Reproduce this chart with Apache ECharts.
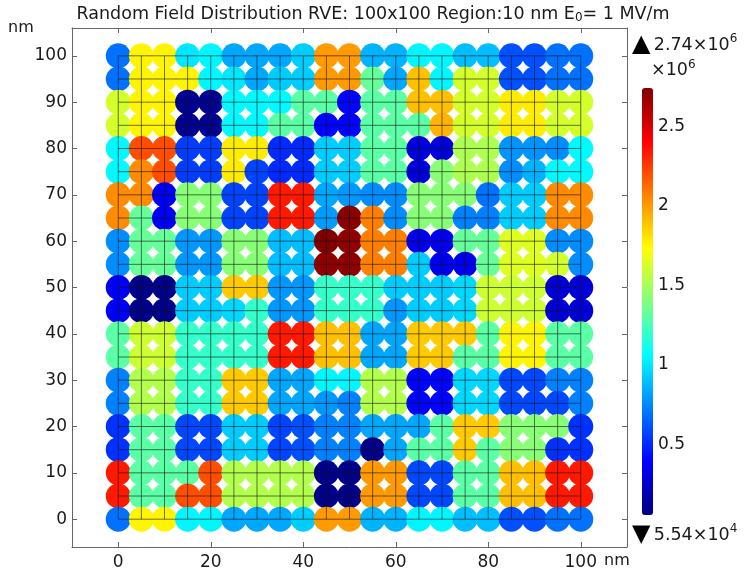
<!DOCTYPE html>
<html><head><meta charset="utf-8">
<script src="https://cdn.jsdelivr.net/npm/echarts@6/dist/echarts.min.js"></script>
<style>html,body{margin:0;padding:0;background:#fff}#c{width:746px;height:575px}</style>
</head><body><div id="c"></div>
<script>
// grid positions (nm)
const positions = [0,5,10,15,20,25,30,35,40,45,50,55,60,65,70,75,80,85,90,95,100];
const xTicks = [0,20,40,60,80,100];
const yTicks = [0,10,20,30,40,50,60,70,80,90,100];
const cbTicks = [0.5,1,1.5,2,2.5];
const fieldMin = 0.0554, fieldMax = 2.74; // x10^6 V/m

// field values (x10^6 V/m), one row per y (nm), columns x = 0..100
const r100 = [0.69,1.76,1.76,1.00,1.04,0.83,0.83,0.83,0.93,2.00,2.00,0.86,0.86,1.04,1.04,0.89,0.89,0.60,0.60,0.69,0.69];
const r95  = [0.69,1.76,1.76,1.76,1.04,1.00,0.83,0.93,0.93,2.00,2.00,1.33,0.83,1.90,1.04,1.62,1.62,0.60,0.60,0.69,0.69];
const r90  = [1.62,1.76,1.76,0.10,0.10,1.05,1.05,1.05,1.30,1.30,0.40,1.30,1.30,1.90,1.90,1.62,1.62,1.78,1.78,1.62,1.62];
const r85  = [1.62,1.76,1.76,0.10,0.10,1.05,1.05,1.30,1.30,0.40,0.40,1.30,1.30,1.30,1.93,1.62,1.62,1.78,1.78,1.62,1.62];
const r80  = [1.05,2.20,2.20,0.55,0.55,1.78,1.78,0.50,0.50,0.93,0.93,1.30,1.30,0.30,0.30,1.52,1.52,0.78,0.78,0.76,1.05];
const r75  = [1.05,2.04,2.20,0.55,0.55,1.78,0.57,0.50,0.50,0.93,0.93,1.30,1.30,0.30,1.42,1.52,1.52,0.76,0.86,1.05,1.05];
const r70  = [2.04,2.04,0.37,1.42,1.42,0.57,0.57,2.34,2.34,0.83,0.79,0.76,0.76,1.42,1.42,1.42,0.69,0.93,0.93,2.04,2.04];
const r65  = [2.04,1.33,0.37,1.42,1.42,0.57,0.57,2.34,2.34,0.80,2.72,2.07,0.76,1.42,1.42,0.73,0.73,0.93,0.93,2.04,2.04];
const r60  = [0.76,1.33,1.33,0.79,0.79,1.42,1.42,0.89,0.89,2.74,2.70,2.07,2.07,0.35,0.35,1.33,1.33,1.65,1.65,0.76,0.76];
const r55  = [0.76,1.33,1.33,0.79,0.79,1.42,1.42,0.89,0.89,2.70,2.70,2.07,2.07,0.93,0.35,0.35,1.33,1.65,1.65,1.62,0.76];
const r50  = [0.37,0.08,0.08,0.93,0.93,1.87,1.87,0.79,0.79,1.20,1.20,1.20,0.93,0.93,0.93,0.96,1.60,1.60,1.60,0.28,0.28];
const r45  = [0.37,0.08,0.08,0.93,0.93,0.96,1.20,0.79,0.79,1.20,1.20,1.20,0.79,0.93,0.93,0.96,1.60,1.60,1.60,0.28,0.28];
const r40  = [1.30,1.60,1.60,1.20,1.20,1.20,1.20,2.34,2.34,1.90,1.90,0.83,0.83,1.87,1.87,1.87,1.30,1.76,1.76,1.30,1.30];
const r35  = [1.30,1.60,1.60,1.20,1.20,1.20,1.20,2.34,2.34,1.90,1.90,0.83,0.83,1.87,1.87,1.30,1.30,1.76,1.76,1.30,1.30];
const r30  = [0.73,1.53,1.53,1.20,1.20,1.87,1.87,0.83,0.83,1.04,1.04,1.53,1.53,0.40,0.40,0.96,0.96,0.58,0.58,0.73,0.73];
const r25  = [0.73,1.53,1.53,1.20,1.20,1.87,1.87,0.83,0.83,0.79,0.73,1.53,1.53,0.40,0.40,0.96,0.96,0.58,0.58,0.58,0.73];
const r20  = [0.52,1.30,1.30,0.58,0.58,0.93,0.93,0.57,0.60,0.73,0.73,0.83,0.83,0.83,1.30,1.87,1.87,1.42,1.42,1.42,0.52];
const r15  = [0.52,1.30,1.30,0.58,0.58,0.93,0.93,0.57,0.60,0.73,0.73,0.08,0.83,1.30,1.30,1.87,1.30,1.42,1.42,0.52,0.52];
const r10  = [2.34,1.30,1.30,1.30,2.20,1.53,1.53,1.53,1.53,0.08,0.08,2.00,2.00,0.58,0.58,1.30,1.30,1.90,1.90,2.34,2.34];
const r5   = [2.34,1.30,1.30,2.20,2.20,1.53,1.53,1.53,1.53,0.08,0.08,2.00,2.00,0.58,0.58,1.30,1.30,1.90,1.90,2.34,2.34];
const r0   = [0.69,1.76,1.76,1.04,1.04,0.83,0.83,0.83,0.93,2.00,2.00,0.86,0.86,1.04,1.04,0.89,0.89,0.60,0.60,0.69,0.69];

const rows = [[100,r100],[95,r95],[90,r90],[85,r85],[80,r80],[75,r75],[70,r70],[65,r65],[60,r60],[55,r55],
              [50,r50],[45,r45],[40,r40],[35,r35],[30,r30],[25,r25],[20,r20],[15,r15],[10,r10],[5,r5],[0,r0]];

const data = [];
rows.forEach(([y, vals]) => vals.forEach((v, i) => data.push([positions[i], y, v])));

const jet = ['#000080','#0000ff','#0080ff','#00ffff','#80ff80','#ffff00','#ff8000','#ff0000','#800000'];
const FONT = 'DejaVu Sans';
const txt = '#1a1a1a';

const chart = echarts.init(document.getElementById('c'), null, {renderer:'canvas'});
const frameAxis = (extra) => Object.assign({
  type:'value', axisLine:{show:true, onZero:false, lineStyle:{color:'#666', width:1}},
  splitLine:{show:false}
}, extra);
const tick = (vals) => ({show:true, inside:true, length:5, lineStyle:{color:'#666'}, customValues:vals});

chart.setOption({
  animation:false,
  textStyle:{fontFamily:FONT},
  title:{
    text:'Random Field Distribution RVE: 100x100 Region:10 nm E{s|0}= 1 MV/m',
    left:'center', top:0,
    textStyle:{fontFamily:FONT, fontSize:17.5, fontWeight:'normal', color:txt,
      rich:{s:{fontFamily:FONT, fontSize:12, verticalAlign:'bottom', padding:[7,0,0,0], color:txt}}}
  },
  grid:[
    {left:72, right:119, top:28, bottom:28, outerBoundsMode:'none'},
    {left:642, width:11, top:88, height:427, outerBoundsMode:'none'}
  ],
  xAxis:[
    frameAxis({gridIndex:0, position:'bottom', min:-10, max:110, axisTick:tick(xTicks),
      axisLabel:{customValues:xTicks, fontSize:17, color:txt, margin:7, fontFamily:FONT}}),
    frameAxis({gridIndex:0, position:'top', min:-10, max:110, axisTick:tick(xTicks),
      axisLabel:{show:false}}),
    {type:'value', gridIndex:1, min:0, max:1, show:false}
  ],
  yAxis:[
    frameAxis({gridIndex:0, position:'left', min:-6, max:106, axisTick:tick(yTicks),
      axisLabel:{customValues:yTicks, fontSize:17, color:txt, margin:5, fontFamily:FONT}}),
    frameAxis({gridIndex:0, position:'right', min:-6, max:106, axisTick:tick(yTicks),
      axisLabel:{show:false}}),
    {type:'value', gridIndex:1, position:'right', min:fieldMin, max:fieldMax,
      axisLine:{show:false}, axisTick:{show:false}, splitLine:{show:false},
      axisLabel:{customValues:cbTicks, fontSize:17, color:txt, margin:5, fontFamily:FONT,
        formatter:v=>String(v)}}
  ],
  visualMap:{
    type:'continuous', seriesIndex:0, dimension:2, min:fieldMin, max:fieldMax,
    inRange:{color:jet}, calculable:false, left:642, top:88, itemWidth:11, itemHeight:427,
    padding:0, text:null, showLabel:false, orient:'vertical', hoverLink:false
  },
  series:[
    {type:'scatter', xAxisIndex:0, yAxisIndex:0, data:data, symbolSize:25, symbol:'circle',
      itemStyle:{opacity:1}, z:2, silent:true},
    {type:'custom', xAxisIndex:0, yAxisIndex:0, data:positions.map(p=>[p]), z:3, silent:true,
      encode:{x:0},
      renderItem:(params, api) => {
        const p = api.value(0);
        const a = api.coord([p, 0]), b = api.coord([p, 100]);
        const c = api.coord([0, p]), d = api.coord([100, p]);
        const st = {stroke:'rgba(20,20,20,0.6)', lineWidth:1};
        return {type:'group', children:[
          {type:'line', shape:{x1:a[0], y1:a[1], x2:b[0], y2:b[1]}, style:st},
          {type:'line', shape:{x1:c[0], y1:c[1], x2:d[0], y2:d[1]}, style:st}
        ]};
      }}
  ],
  graphic:[
    {type:'text', left:8, top:20, style:{text:'nm', font:'16px "DejaVu Sans"', fill:txt}},
    {type:'text', left:604, top:553, style:{text:'nm', font:'16px "DejaVu Sans"', fill:txt}},
    {type:'text', left:632, top:33, style:{
      text:'{t|▲} {n|2.74×10}{p|6}', fill:txt,
      rich:{t:{fontSize:24, fontFamily:FONT, fill:'#000'}, n:{fontSize:17.5, fontFamily:FONT, fill:txt},
            p:{fontSize:12, fontFamily:FONT, fill:txt, verticalAlign:'top', padding:[0,0,10,0]}}}},
    {type:'text', left:651, top:59, style:{
      text:'{n|×10}{p|6}', fill:txt,
      rich:{n:{fontSize:17.5, fontFamily:FONT, fill:txt},
            p:{fontSize:12, fontFamily:FONT, fill:txt, verticalAlign:'top', padding:[0,0,10,0]}}}},
    {type:'text', left:632, top:523, style:{
      text:'{t|▼} {n|5.54×10}{p|4}', fill:txt,
      rich:{t:{fontSize:24, fontFamily:FONT, fill:'#000'}, n:{fontSize:17.5, fontFamily:FONT, fill:txt},
            p:{fontSize:12, fontFamily:FONT, fill:txt, verticalAlign:'top', padding:[0,0,10,0]}}}}
  ]
});
</script></body></html>
